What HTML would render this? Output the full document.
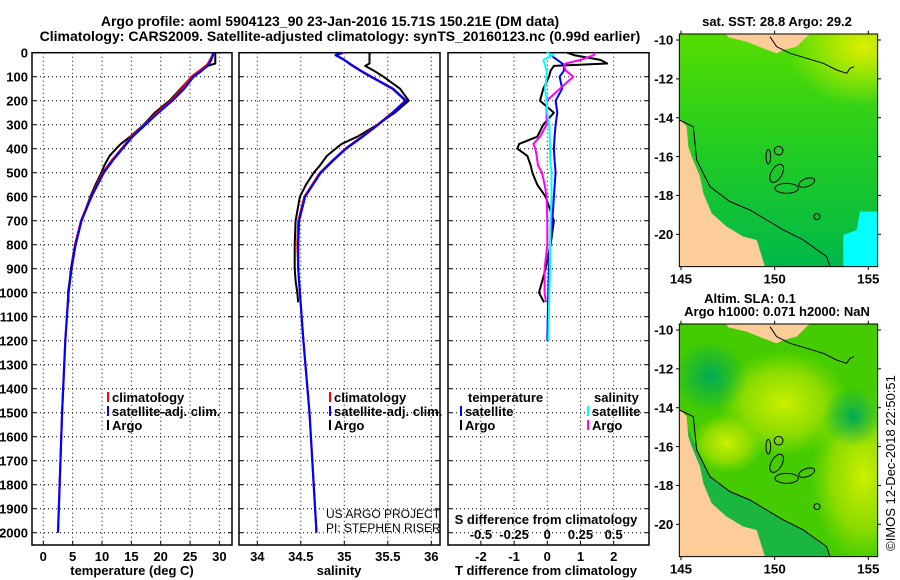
<!DOCTYPE html>
<html><head><meta charset="utf-8"><style>
body{margin:0;background:#fff;}
svg{display:block;font-family:"Liberation Sans",sans-serif;font-weight:bold;}
</style></head><body>
<svg id="s" width="900" height="580" viewBox="0 0 900 580" xmlns="http://www.w3.org/2000/svg">
<text x="330" y="26" font-size="14" text-anchor="middle">Argo profile: aoml 5904123_90 23-Jan-2016 15.71S 150.21E (DM data)</text>
<text x="340" y="41" font-size="14" text-anchor="middle">Climatology: CARS2009. Satellite-adjusted climatology: synTS_20160123.nc (0.99d earlier)</text>
<g id="maps"></g>
<g id="panels"></g>
</svg>
<script>
// ---- data ----
const depthClim = [0,10,30,50,75,100,150,200,250,300,350,400,450,500,600,700,800,900,1000,1200,1500,2000];
const tempClim = [28.9,28.8,28.4,27.9,26.6,25.2,23.6,21.7,19.3,17.2,15.0,13.3,11.6,10.1,8.1,6.4,5.4,4.8,4.3,3.75,3.2,2.5];
const tempSat = [29.0,28.9,28.6,28.2,27.0,25.6,24.0,22.0,19.6,17.4,15.2,13.5,11.8,10.3,8.2,6.5,5.5,4.8,4.3,3.75,3.2,2.5];
const salClim = [35.0,34.9,35.0,35.07,35.18,35.30,35.55,35.70,35.55,35.38,35.20,35.01,34.86,34.72,34.54,34.47,34.46,34.47,34.49,34.53,34.60,34.68];
const salSat = [34.98,34.9,35.0,35.08,35.19,35.31,35.56,35.71,35.56,35.39,35.21,35.02,34.87,34.73,34.55,34.48,34.47,34.47,34.49,34.53,34.60,34.68];
const depthArgo = [0,10,30,45,55,75,100,150,200,250,300,350,380,400,430,470,500,550,600,700,800,900,950,1000,1040];
const tempArgo = [29.3,29.3,29.3,29.3,28.0,26.8,25.3,23.4,21.5,19.0,17.1,14.8,13.2,12.4,11.3,10.4,9.9,8.9,8.0,6.5,5.4,4.7,4.5,4.2,4.3];
const salArgo = [35.29,35.29,35.29,35.29,35.24,35.34,35.45,35.64,35.74,35.58,35.38,35.15,34.97,34.90,34.80,34.72,34.65,34.56,34.49,34.44,34.43,34.43,34.44,34.46,34.47];
const dTempArgo = [0.6,0.8,1.6,1.8,0.2,0.1,0.05,-0.12,-0.22,0.2,-0.12,-0.3,-0.85,-0.9,-0.6,-0.5,-0.45,-0.3,-0.05,0.2,0.1,-0.05,-0.15,-0.25,-0.1];
const dSalArgo = [0.36,0.35,0.25,0.14,0.125,0.14,0.195,0.095,-0.005,-0.005,-0.005,-0.055,-0.105,-0.09,-0.08,-0.07,-0.04,-0.02,-0.005,0.0,0.0,-0.02,-0.02,-0.02,-0.01];
const depthDiff = [0,10,30,50,75,100,150,200,250,300,350,400,450,500,600,700,800,900,1000,1200];
const dTempSat = [0.05,0.1,0.3,0.5,0.5,0.37,0.45,0.25,0.3,0.25,0.22,0.2,0.22,0.25,0.2,0.15,0.08,0.05,0.03,0.0];
const dSalSat = [-0.005,0.045,-0.03,-0.018,-0.005,-0.005,-0.018,-0.005,0,0.015,0.018,0.02,0.022,0.032,0.032,0.025,0.02,0.02,0.015,0.008];
const depthTicks = [0,100,200,300,400,500,600,700,800,900,1000,1100,1200,1300,1400,1500,1600,1700,1800,1900,2000];
const tempTicks = [0,5,10,15,20,25,30];
const salTicks = [34,34.5,35,35.5,36];
const tDiffTicks = [-2,-1,0,1,2];
const sDiffTicks = [-0.5,-0.25,0,0.25,0.5];
const sDiffLabels = ["-0.5","-0.25","0","0.25","0.5"];

const NS="http://www.w3.org/2000/svg";
const P=document.getElementById('panels');
function mk(tag,attrs,parent){const e=document.createElementNS(NS,tag);for(const k in attrs)e.setAttribute(k,attrs[k]);(parent||P).appendChild(e);return e;}
function txt(x,y,s,size,anchor,parent){const e=mk('text',{x:x,y:y,'font-size':size,'text-anchor':anchor||'middle'},parent);e.textContent=s;return e;}

const Y0=52.7, YB=545;
const yD=z=>Y0+0.24*z;
const xT=t=>43.3+5.87*t;
const xS=s=>257.3+87*(s-34);
const xDT=d=>547.3+33.2*d;
const xDS=d=>547.3+33.2*4*d;
const boxes=[[32,232,'temperature-panel'],[239,440,'salinity-panel'],[448,649,'difference-panel']];

// grids & boxes
boxes.forEach((b,i)=>{
  const g=mk('g',{});
  
  
  depthTicks.forEach(z=>{ if(z>0){const l=mk('line',{x1:b[0],x2:b[1],y1:yD(z),y2:yD(z),stroke:'#000','stroke-dasharray':'1,3','stroke-width':1},g);
    
    }
    mk('line',{x1:b[0],x2:b[0]+4,y1:yD(z),y2:yD(z),stroke:'#000'},g);
    mk('line',{x1:b[1]-4,x2:b[1],y1:yD(z),y2:yD(z),stroke:'#000'},g);
  });
  const xs = i==0?tempTicks.map(xT):i==1?salTicks.map(xS):tDiffTicks.map(xDT);
  xs.forEach(x=>{const l=mk('line',{x1:x,x2:x,y1:Y0,y2:YB,stroke:'#000','stroke-dasharray':'1,3'},g);
    
    
    mk('line',{x1:x,x2:x,y1:YB-4,y2:YB,stroke:'#000'},g);});
  const r=mk('rect',{x:b[0],y:Y0,width:b[1]-b[0],height:YB-Y0,fill:'none',stroke:'#000','stroke-width':1.5},g);
  
  
});
depthTicks.forEach(z=>{const t=txt(28,yD(z)+5,String(z),13,'end');
  
  });
tempTicks.forEach(v=>{const t=txt(xT(v),561,String(v),13);
  
  });
salTicks.forEach(v=>{const t=txt(xS(v),561,String(v),13);
  
  });
tDiffTicks.forEach(v=>{const t=txt(xDT(v),561,String(v),13);
  
  });
sDiffTicks.forEach((v,i)=>{const t=txt(xDS(v),539,sDiffLabels[i],13);
  
  });
let t;
t=txt(132,575,'temperature (deg C)',13);


t=txt(339,575,'salinity',13);


t=txt(546,575,'T difference from climatology',13);


t=txt(546,524,'S difference from climatology',13);


t=txt(326,518,'US ARGO PROJECT',12,'start');t.setAttribute('font-weight','normal');


t=txt(326,532,'PI: STEPHEN RISER',12,'start');t.setAttribute('font-weight','normal');



function series(xs,zs,fx,color,w,name){
  const d=xs.map((v,i)=>(i?'L':'M')+fx(v).toFixed(1)+','+yD(zs[i]).toFixed(1)).join('');
  const p=mk('path',{d:d,fill:'none',stroke:color,'stroke-width':w,'stroke-linejoin':'round'});
  
  
}
series(tempArgo,depthArgo,xT,'#000',2,'argo-temperature-line');
series(tempClim,depthClim,xT,'#f00',2,'climatology-temperature-line');
series(tempSat,depthClim,xT,'#00f',2.2,'satellite-temperature-line');
series(salArgo,depthArgo,xS,'#000',2,'argo-salinity-line');
series(salClim,depthClim,xS,'#f00',2,'climatology-salinity-line');
series(salSat,depthClim,xS,'#00f',2.2,'satellite-salinity-line');
series(dTempArgo,depthArgo,xDT,'#000',2,'argo-t-diff-line');
series(dTempSat,depthDiff,xDT,'#00f',2,'satellite-t-diff-line');
series(dSalArgo,depthArgo,xDS,'#f0f',2,'argo-s-diff-line');
series(dSalSat,depthDiff,xDS,'#0ff',2,'satellite-s-diff-line');

function legend(x,y,color,label,name){
  const g=mk('g',{});
  
  
  mk('rect',{x:x,y:y-10,width:2,height:10,fill:color},g);
  txt(x+5,y,label,13,'start',g);
}
legend(107,402,'#f00','climatology','legend-climatology-t');
legend(107,416,'#00f','satellite-adj. clim.','legend-satellite-t');
legend(107,430,'#000','Argo','legend-argo-t');
legend(329,402,'#f00','climatology','legend-climatology-s');
legend(329,416,'#00f','satellite-adj. clim.','legend-satellite-s');
legend(329,430,'#000','Argo','legend-argo-s');
t=txt(468,402,'temperature',13,'start');


t=txt(594,402,'salinity',13,'start');


legend(460,416,'#00f','satellite','legend-satellite-tdiff');
legend(460,430,'#000','Argo','legend-argo-tdiff');
legend(587,416,'#0ff','satellite','legend-satellite-sdiff');
legend(587,430,'#f0f','Argo','legend-argo-sdiff');

// ---- maps ----
const M=document.getElementById('maps');
function map(oy,kind,name){
  const g=mk('g',{transform:'translate(650,'+oy+') scale(0.3333)'},M);
  
  
  const defs=mk('defs',{},g);
  const cid='clip'+kind;
  const cp=mk('clipPath',{id:cid},defs);
  mk('rect',{x:88,y:102,width:595,height:698},cp);
  const b=mk('g',{'clip-path':'url(#'+cid+')'},g);
  if(kind==='sst'){
    const lg=mk('linearGradient',{id:'gs',x1:0,y1:0,x2:0,y2:1},defs);
    mk('stop',{offset:0,'stop-color':'#55dd00'},lg);mk('stop',{offset:0.5,'stop-color':'#22cc22'},lg);mk('stop',{offset:1,'stop-color':'#00b84a'},lg);
    const rg=mk('radialGradient',{id:'ys'},defs);
    mk('stop',{offset:0,'stop-color':'#ddee00'},rg);mk('stop',{offset:1,'stop-color':'#ddee00','stop-opacity':0},rg);
    mk('rect',{x:88,y:102,width:595,height:698,fill:'url(#gs)'},b);
    mk('ellipse',{cx:640,cy:140,rx:230,ry:180,fill:'url(#ys)'},b);
    mk('polygon',{points:'630,635 683,635 683,800 580,800 580,705 620,690',fill:'#00ffff'},b);
  } else {
    mk('rect',{x:88,y:102,width:595,height:698,fill:'#44cc00'},b);
    const rg=mk('radialGradient',{id:'ya'},defs);
    mk('stop',{offset:0,'stop-color':'#ccf000'},rg);mk('stop',{offset:0.6,'stop-color':'#a0e000','stop-opacity':0.8},rg);mk('stop',{offset:1,'stop-color':'#88dd00','stop-opacity':0},rg);
    const dg=mk('radialGradient',{id:'da'},defs);
    mk('stop',{offset:0,'stop-color':'#00aa55'},dg);mk('stop',{offset:1,'stop-color':'#00aa55','stop-opacity':0},dg);
    mk('ellipse',{cx:400,cy:340,rx:200,ry:160,fill:'url(#ya)'},b);
    mk('ellipse',{cx:640,cy:560,rx:160,ry:260,fill:'url(#ya)'},b);
    mk('ellipse',{cx:230,cy:460,rx:110,ry:90,fill:'url(#ya)'},b);
    mk('ellipse',{cx:610,cy:380,rx:90,ry:90,fill:'url(#da)'},b);
    mk('ellipse',{cx:180,cy:260,rx:110,ry:110,fill:'url(#da)'},b);
    mk('polygon',{points:'88,360 180,560 240,605 300,630 400,690 460,720 530,770 540,800 88,800',fill:'#11b050','opacity':0.8},b);
  }
  mk('polygon',{points:'88,355 110,380 115,440 125,470 150,530 160,580 185,640 230,680 280,710 320,720 345,800 88,800',fill:'#fccc99'},b);
  mk('polygon',{points:'228,102 235,112 290,125 340,145 380,160 400,150 440,140 470,110 480,102',fill:'#fccc99'},b);
  mk('polyline',{points:'88,360 130,380 140,480 180,560 240,605 300,630 400,690 460,720 530,770 540,800',fill:'none',stroke:'#000','stroke-width':3},b);
  mk('polyline',{points:'360,110 380,140 420,160 470,175 520,190 560,210 590,220 600,205 612,200',fill:'none',stroke:'#000','stroke-width':3},b);
  mk('circle',{cx:386,cy:452,r:13,fill:'none',stroke:'#000','stroke-width':3},b);
  mk('ellipse',{cx:380,cy:520,rx:16,ry:30,fill:'none',stroke:'#000','stroke-width':3,transform:'rotate(30 380 520)'},b);
  mk('ellipse',{cx:410,cy:565,rx:35,ry:15,fill:'none',stroke:'#000','stroke-width':3},b);
  mk('ellipse',{cx:470,cy:548,rx:25,ry:12,fill:'none',stroke:'#000','stroke-width':3,transform:'rotate(-20 470 548)'},b);
  mk('ellipse',{cx:355,cy:470,rx:7,ry:22,fill:'none',stroke:'#000','stroke-width':3},b);
  mk('circle',{cx:501,cy:650,r:9,fill:'none',stroke:'#000','stroke-width':3},b);
  mk('rect',{x:88,y:102,width:595,height:698,fill:'none',stroke:'#000','stroke-width':3},g);
  const lats=[-10,-12,-14,-16,-18,-20];
  lats.forEach(l=>{const y=120+(-10-l)*58.3;
    mk('line',{x1:88,x2:78,y1:y,y2:y,stroke:'#000','stroke-width':3},g);
    mk('line',{x1:683,x2:693,y1:y,y2:y,stroke:'#000','stroke-width':3},g);
    const tt=txt(70,y+14,String(l),40,'end',g);
    
    });
  [145,150,155].forEach(l=>{const x=93+(l-145)*56.2;
    mk('line',{x1:x,x2:x,y1:800,y2:810,stroke:'#000','stroke-width':3},g);
    mk('line',{x1:x,x2:x,y1:102,y2:92,stroke:'#000','stroke-width':3},g);
    const tt=txt(x,850,String(l),40,'middle',g);
    
    });
}
map(0,'sst','sst-map');
map(290,'sla','sla-map');
t=txt(777,26,'sat. SST: 28.8 Argo: 29.2',13,'middle',M);


t=txt(750,303,'Altim. SLA: 0.1',13,'middle',M);


t=txt(777,316,'Argo h1000: 0.071 h2000: NaN',13,'middle',M);


t=mk('text',{x:0,y:0,'font-size':13,'font-weight':'normal','text-anchor':'middle',transform:'translate(895,463) rotate(-90)'},M);
t.textContent='©IMOS 12-Dec-2018 22:50:51';


</script>
</body></html>
